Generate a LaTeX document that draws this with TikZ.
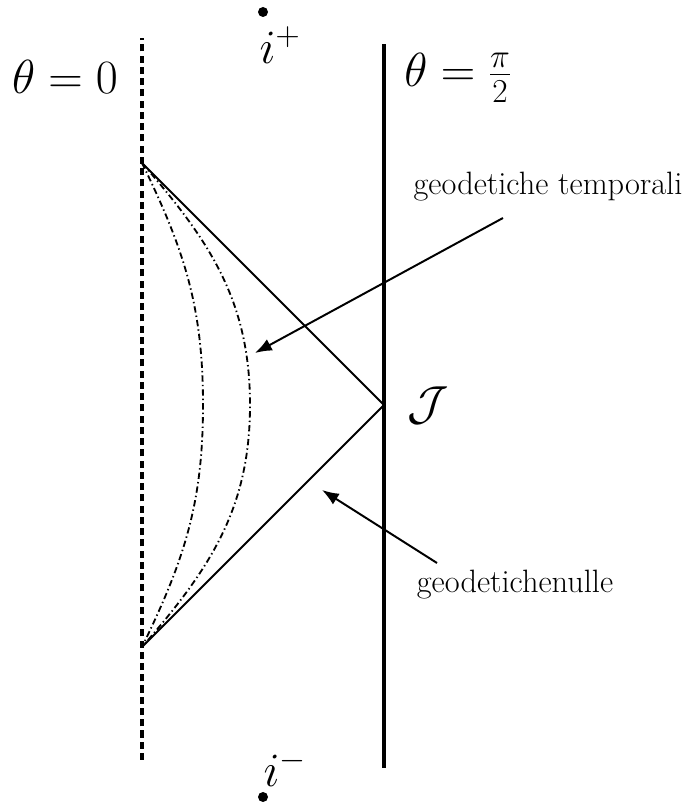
\RequirePackage{fix-cm}
\documentclass[tikz,border=0pt]{standalone}
\usepackage{tikz}
\usetikzlibrary{arrows.meta}

\begin{document}
\begin{tikzpicture}[>={Latex[length=12pt,width=9pt]},
    biglab/.style={font=\fontsize{34}{40}\selectfont},
    smalllab/.style={font=\fontsize{23}{27}\selectfont},
    geod/.style={line width=1.3pt, dash pattern=on 4.5pt off 2.2pt on 1pt off 2.2pt},
    infdot/.style={circle, fill, inner sep=0pt, minimum size=0.25cm}]
        \useasboundingbox (0,0) rectangle (17.15,20.125);

        % boundaries of the strip
        \draw[line width=2.6pt, dash pattern=on 5pt off 3pt] (3.55,1.125) -- (3.55,19.175);
        \draw[line width=2.8pt] (9.6,0.925) -- (9.6,19.025);

        % points on the axis and on the boundary
        \coordinate (top)  at (3.55,16.05);
        \coordinate (bot)  at (3.55,3.95);
        \coordinate (scri) at (9.6,10);
        \coordinate (inner) at (5.075,10);
        \coordinate (outer) at (6.25,10);

        % null geodesics
        \draw[line width=1.4pt] (top) -- (scri);
        \draw[line width=1.4pt] (bot) -- (scri);

        % timelike geodesics
        \draw[geod] (top) to[out=-64,in=90] (inner) to[out=-90,in=64] (bot);
        \draw[geod] (top) to[out=-49,in=90] (outer) to[out=-90,in=49] (bot);

        % labels
        \node[biglab] (th0)  at (1.625,18.2)  {$\theta=0$};
        \node[biglab] (thpi) at (11.45,18.175) {$\theta=\frac{\pi}{2}$};
        \node[biglab] (ip)   at (7.0,19.0)    {$i^+$};
        \node[biglab] (im)   at (7.125,0.925) {$i^-$};
        \node[biglab] (J)    at (10.7,10.0)   {$\mathcal{J}$};
        \node[infdot] (dtop) at (6.575,19.825) {};
        \node[infdot] (dbot) at (6.575,0.2) {};

        \node[smalllab] (temp) at (13.7,15.45) {geodetiche temporali};
        \node[smalllab] (null) at (12.875,5.5) {geodetichenulle};

        % arrows
        \coordinate (tempfrom) at (12.575,14.675);
        \coordinate (temptip)  at (6.375,11.3);
        \coordinate (nullfrom) at (10.925,6.05);
        \coordinate (nulltip)  at (8.05,7.875);
        \draw[line width=1.4pt,->] (tempfrom) -- (temptip);
        \draw[line width=1.4pt,->] (nullfrom) -- (nulltip);
\end{tikzpicture}
\end{document}
